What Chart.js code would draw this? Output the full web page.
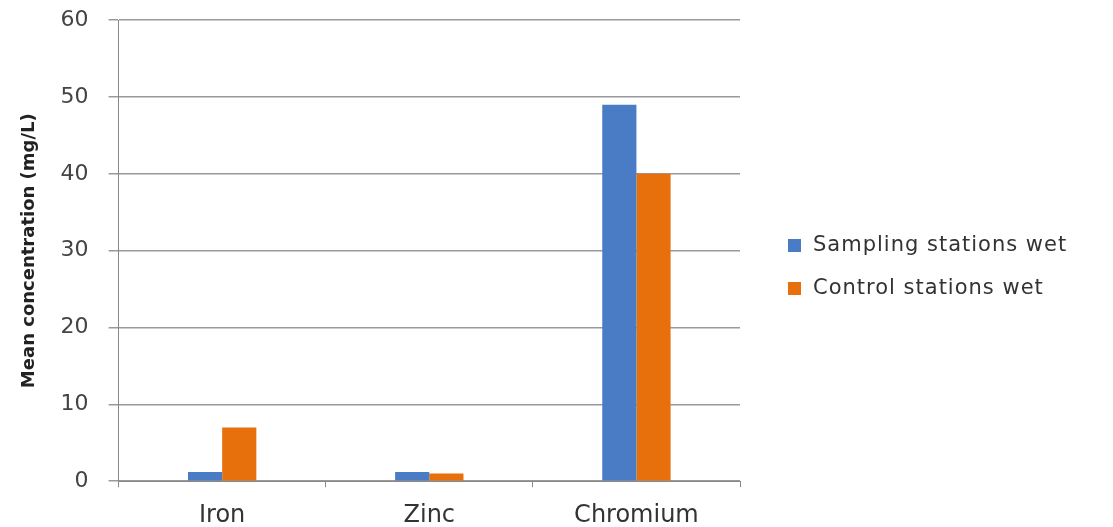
<!DOCTYPE html>
<html>
<head>
<meta charset="utf-8">
<script src="https://cdn.jsdelivr.net/npm/chart.js@4.4.1/dist/chart.umd.min.js"></script>
<style>
  html, body { margin: 0; padding: 0; background: #fff; overflow: hidden; }
  #wrap { width: 1113px; height: 527px; position: relative; overflow: hidden; }
  #chartBox { position: absolute; left: 0; top: -13px; width: 1113px; height: 557px; }
  #legend { position: absolute; left: 788px; top: 232px; font-family: 'DejaVu Sans'; font-size: 21px;
            letter-spacing: 1px; color: #333; }
  #legend div { height: 43px; display: flex; align-items: flex-start; white-space: nowrap; }
  #legend span.sw { display: inline-block; width: 13px; height: 13px; margin: 7px 12px 0 0; }
</style>
</head>
<body>
<div id="wrap">
  <div id="chartBox"><canvas id="metalChart"></canvas></div>
  <div id="legend"></div>
</div>
<script>
// metals, wet season
const categories = ['Iron', 'Zinc', 'Chromium'];
const samplingWet = [1.2, 1.2, 49];
const controlWet  = [7, 1, 40];
const yTicks = [0, 10, 20, 30, 40, 50, 60];
const seriesNames = ['Sampling stations wet', 'Control stations wet'];
const seriesColors = ['#4a7cc6', '#e8700c'];

const ctx = document.getElementById('metalChart').getContext('2d');
const chart = new Chart(ctx, {
  type: 'bar',
  data: {
    labels: categories,
    datasets: [
      { label: seriesNames[0], data: samplingWet, backgroundColor: seriesColors[0] },
      { label: seriesNames[1], data: controlWet,  backgroundColor: seriesColors[1] }
    ]
  },
  options: {
    responsive: true,
    maintainAspectRatio: false,
    animation: false,
    categoryPercentage: 0.33,
    barPercentage: 1,
    layout: { padding: { top: 0, left: 19, right: 373, bottom: 0 } },
    scales: {
      x: {
        grid: { display: true, drawOnChartArea: false, color: '#888', tickLength: 6, offset: true },
        border: { color: '#888' },
        ticks: { color: '#333', font: { family: 'DejaVu Sans', size: 24 }, padding: 14 }
      },
      y: {
        min: 0, max: 60,
        afterBuildTicks: axis => { axis.ticks = yTicks.map(v => ({ value: v })); },
        grid: { color: '#999', lineWidth: 1.5, tickLength: 10 },
        border: { color: '#888' },
        ticks: { color: '#444', font: { family: 'DejaVu Sans', size: 22 }, padding: 20 },
        title: {
          display: true,
          text: 'Mean concentration (mg/L)',
          color: '#222',
          font: { family: 'DejaVu Sans', size: 18, weight: 'bold' },
          padding: 0
        }
      }
    },
    plugins: {
      tooltip: { enabled: false },
      legend: { display: false }
    }
  }
});

// legend as html, built from the datasets
const legendEl = document.getElementById('legend');
chart.data.datasets.forEach(ds => {
  const row = document.createElement('div');
  row.innerHTML = `<span class="sw" style="background:${ds.backgroundColor}"></span>${ds.label}`;
  legendEl.appendChild(row);
});
</script>
</body>
</html>
